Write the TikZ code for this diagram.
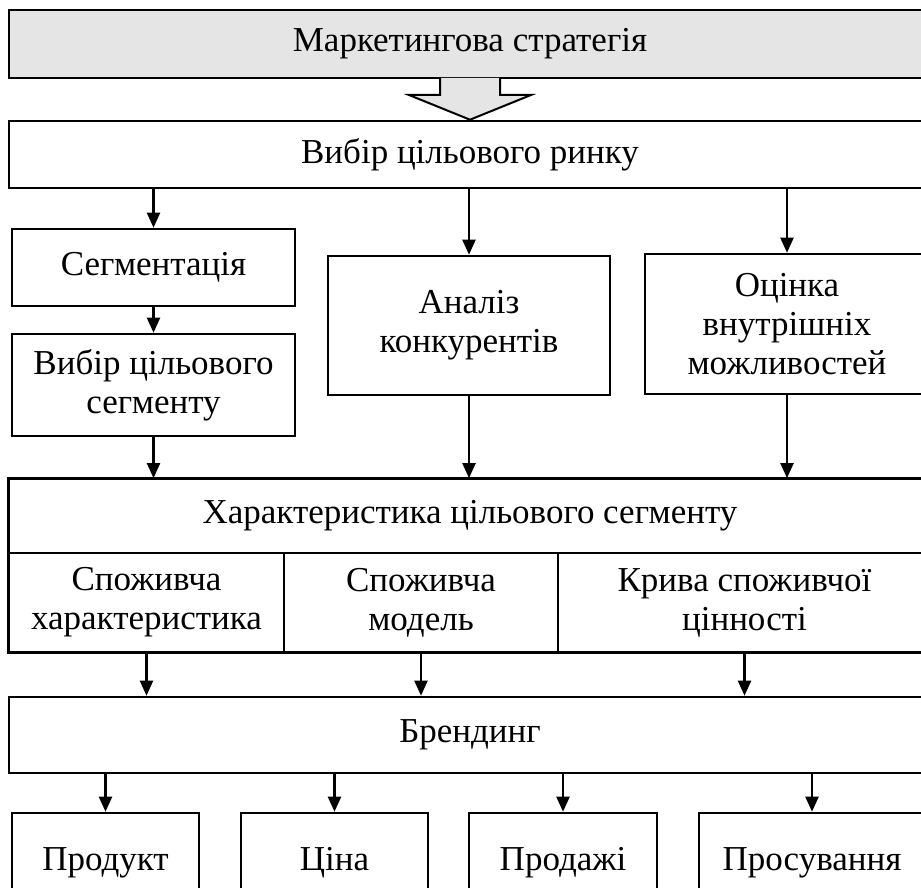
\documentclass[tikz,border=0pt]{standalone}
\usepackage{fontspec}
\setmainfont{Liberation Serif}
\usetikzlibrary{arrows.meta,positioning,calc}

\begin{document}
\begin{tikzpicture}[x=1pt,y=-1pt,
    blk/.style={draw, line width=2.6pt, align=center, inner sep=0pt,
      font=\fontsize{35}{39}\selectfont},
    cell/.style={draw, line width=1.8pt, align=center, inner sep=0pt,
      font=\fontsize{35}{39}\selectfont},
    arr/.style={-{Triangle[length=15pt,width=13pt]}, line width=2.2pt}]
    \useasboundingbox (0,0) rectangle (921,888);
    \clip (0,0) rectangle (921,888);

    % Strategy and target market
    \node[blk, fill=black!10, minimum width=922pt, minimum height=68pt] (strat) at (470,44) {Маркетингова стратегія};
    \node[blk, minimum width=922pt, minimum height=67pt] (rynok) at (470,154.5) {Вибір цільового ринку};

    % Hollow arrow between them
    \draw[line width=2pt, fill=black!10] (440,78) -- (440,95) -- (409,95) -- (rynok.north) -- (531,95) -- (500,95) -- (500,78);

    % Second level
    \node[blk, minimum width=283pt, minimum height=77pt] (segm) at (153.5,267.5) {Сегментація};
    \node[blk, minimum width=283pt, minimum height=102pt] (wsegm) at (153.5,385) {Вибір цільового\\сегменту};
    \node[blk, minimum width=282pt, minimum height=139pt] (konk) at (469,325.5) {Аналіз\\конкурентів};
    \node[blk, minimum width=284pt, minimum height=140pt] (ocinka) at (787,324) {Оцінка\\внутрішніх\\можливостей};

    \draw[arr] (rynok.south -| segm) -- (segm.north);
    \draw[arr] (rynok.south -| konk) -- (konk.north);
    \draw[arr] (rynok.south -| ocinka) -- (ocinka.north);
    \draw[arr] (segm.south) -- (wsegm.north);

    % Segment characteristics
    \node[cell, minimum width=922pt, minimum height=74pt] (harakt) at (470,516) {Характеристика цільового сегменту};
    \node[cell, minimum width=275pt, minimum height=99pt] (spchar) at (146.5,602.5) {Споживча\\характеристика};
    \node[cell, minimum width=274pt, minimum height=99pt] (spmod) at (421,602.5) {Споживча\\модель};
    \node[cell, minimum width=373pt, minimum height=99pt] (kryva) at (744.5,602.5) {Крива споживчої\\цінності};
    \draw[line width=2.6pt] (harakt.north west) rectangle (kryva.south east -| harakt.east);

    \draw[arr] (wsegm.south) -- (wsegm.south |- harakt.north);
    \draw[arr] (konk.south) -- (konk.south |- harakt.north);
    \draw[arr] (ocinka.south) -- (ocinka.south |- harakt.north);

    % Branding
    \node[blk, minimum width=922pt, minimum height=76pt] (brend) at (470,735) {Брендинг};
    \draw[arr] (spchar.south) -- (spchar.south |- brend.north);
    \draw[arr] (spmod.south) -- (spmod.south |- brend.north);
    \draw[arr] (kryva.south) -- (kryva.south |- brend.north);

    % Marketing mix
    \node[blk, minimum width=187pt, minimum height=100pt] (prod) at (105.5,863) {Продукт};
    \node[blk, minimum width=187pt, minimum height=100pt] (cina) at (334.5,863) {Ціна};
    \node[blk, minimum width=188pt, minimum height=100pt] (prodazh) at (563,863) {Продажі};
    \node[blk, minimum width=226pt, minimum height=100pt] (prosuv) at (812,863) {Просування};

    \foreach \b in {prod,cina,prodazh,prosuv}
      \draw[arr] (brend.south -| \b) -- (\b.north);
\end{tikzpicture}
\end{document}
